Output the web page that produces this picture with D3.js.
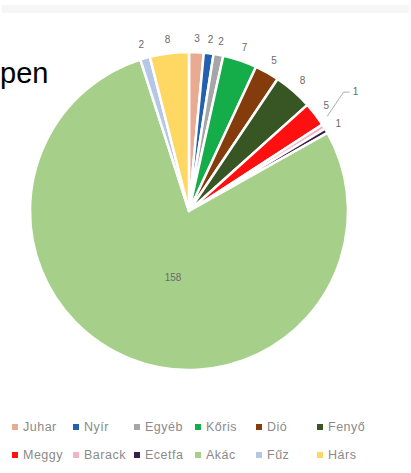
<!DOCTYPE html>
<html>
<head>
<meta charset="utf-8">
<script src="https://cdn.jsdelivr.net/npm/d3@7"></script>
<style>
  html, body { margin: 0; padding: 0; background: #fff; }
  svg { display: block; }
</style>
</head>
<body>
<svg id="chart" width="411" height="473"></svg>
<script>
const categories = ["Juhar", "Nyír", "Egyéb", "Kőris", "Dió", "Fenyő", "Meggy", "Barack", "Ecetfa", "Akác", "Fűz", "Hárs"];
const values = [3, 2, 2, 7, 5, 8, 5, 1, 1, 158, 2, 8];
const colors = ["#e8ab92", "#2360ad", "#a6a6a6", "#14ad4a", "#843c0c", "#375623", "#ff1010", "#f4b4c4", "#3a1f48", "#a6d08a", "#b4c7e7", "#ffd863"];
const titleFragment = "pen";

const svg = d3.select("#chart");
const W = 411, H = 473;
const cx = 189, cy = 211, r = 159;

// faint band at the top
svg.append("rect").attr("x", 2).attr("y", 5).attr("width", W - 4).attr("height", 8).attr("fill", "#f6f6f6");

// cropped title text
svg.append("text")
  .attr("x", 0).attr("y", 83)
  .attr("font-family", "Liberation Sans, Arial, sans-serif")
  .attr("font-size", 29)
  .attr("fill", "#000")
  .text(titleFragment);

const data = categories.map((c, i) => ({ name: c, value: values[i], color: colors[i] }));
const pie = d3.pie().sort(null).value(d => d.value).startAngle(0).endAngle(2 * Math.PI);
const arcs = pie(data);
const arc = d3.arc().innerRadius(0).outerRadius(r);
const labelArc = d3.arc().innerRadius(r + 14).outerRadius(r + 14);

const g = svg.append("g").attr("transform", `translate(${cx},${cy})`);
g.selectAll("path.slice").data(arcs).enter().append("path")
  .attr("class", "slice")
  .attr("d", arc)
  .attr("fill", d => d.data.color)
  .attr("stroke", "#fff")
  .attr("stroke-width", 2.5)
  .attr("stroke-linejoin", "round");

// data labels
arcs.forEach(d => {
  let [x, y] = labelArc.centroid(d);
  if (d.data.name === "Akác") { x = -16; y = 66; }
  if (d.data.name === "Barack") {
    const edge = d3.arc().innerRadius(r + 4).outerRadius(r + 4).centroid(d);
    const lx = x + 20, ly = y - 28;
    g.append("polyline")
      .attr("points", `${edge[0]},${edge[1] - 8} ${lx - 12},${ly + 1} ${lx - 6},${ly + 1}`)
      .attr("fill", "none").attr("stroke", "#999").attr("stroke-width", 0.8);
    x = lx; y = ly;
  }
  g.append("text")
    .attr("x", x).attr("y", y)
    .attr("text-anchor", "middle")
    .attr("dominant-baseline", "central")
    .attr("font-family", "Liberation Sans, Arial, sans-serif")
    .attr("font-size", 10)
    .attr("fill", "#6a6a6a")
    .text(d.data.value);
});

// legend
const colX = d3.scaleLinear().domain([0, 5]).range([15, 320]);
const rowY = d3.scaleLinear().domain([0, 1]).range([427, 455]);
const leg = svg.append("g");
data.forEach((d, i) => {
  const col = i % 6, row = Math.floor(i / 6);
  const x = colX(col), y = rowY(row);
  leg.append("rect")
    .attr("x", x - 3).attr("y", y - 3).attr("width", 6).attr("height", 6)
    .attr("fill", d.color);
  leg.append("text")
    .attr("x", x + 8).attr("y", y)
    .attr("dominant-baseline", "central")
    .attr("font-family", "Liberation Sans, Arial, sans-serif")
    .attr("font-size", 12.5)
    .attr("letter-spacing", 0.5)
    .attr("fill", "#8a8a8a")
    .text(d.name);
});
</script>
</body>
</html>
